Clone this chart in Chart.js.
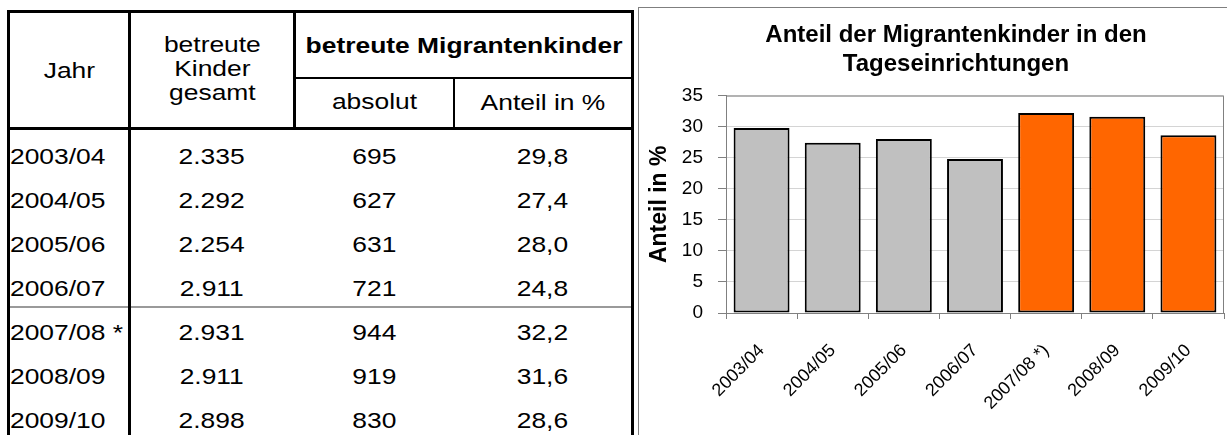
<!DOCTYPE html>
<html>
<head>
<meta charset="utf-8">
<script src="https://cdn.jsdelivr.net/npm/chart.js@4/dist/chart.umd.min.js"></script>
<style>
  html, body { margin: 0; padding: 0; background: #fff; }
  body { width: 1227px; height: 435px; overflow: hidden; position: relative;
         font-family: "Liberation Sans", Arial, sans-serif; color: #000; }
  .linie { position: absolute; background: #000; }
  .zelle { position: absolute; white-space: nowrap; font-size: 22px; line-height: 26px; height: 26px; }
  .zelle span { display: inline-block; transform: scaleX(1.2); }
  .mitte { text-align: center; width: 400px; }
  .mitte span { transform-origin: center; }
  .links span { transform-origin: left center; }
  #rahmen { position: absolute; left: 638px; top: 7px; width: 700px; height: 500px;
            border-left: 1px solid #7f7f7f; border-top: 1px solid #7f7f7f; }
  #diagramm { position: absolute; left: 639px; top: 8px; width: 634px; height: 427px; }
</style>
</head>
<body>
<div id="tabelle"></div>
<div id="rahmen"></div>
<div id="diagramm"><canvas id="graficoAnteil"></canvas></div>

<script>
// Daten
const jahre = ["2003/04", "2004/05", "2005/06", "2006/07", "2007/08 *)", "2008/09", "2009/10"];
const kinderGesamt = [2335, 2292, 2254, 2911, 2931, 2911, 2898];
const migrantenAbsolut = [695, 627, 631, 721, 944, 919, 830];
const anteilProzent = [29.8, 27.4, 28.0, 24.8, 32.2, 31.6, 28.6];
const yTicks = [0, 5, 10, 15, 20, 25, 30, 35];

// Zahlen im deutschen Format
function tausender(n) {
    return String(n).replace(/\B(?=(\d{3})+(?!\d))/g, ".");
}
function komma(n) {
    return n.toFixed(1).replace(".", ",");
}

// Tabelle zeichnen
const tabelle = document.getElementById("tabelle");

function linie(x, y, w, h, farbe) {
    const d = document.createElement("div");
    d.className = "linie";
    d.style.left = x + "px";
    d.style.top = y + "px";
    d.style.width = w + "px";
    d.style.height = h + "px";
    if (farbe) d.style.background = farbe;
    tabelle.appendChild(d);
}

function text(inhalt, x, yMitte, art, fett, zeilen) {
    const d = document.createElement("div");
    d.className = "zelle " + art;
    const n = zeilen || 1;
    d.style.top = (yMitte - n * 12) + "px";
    if (n > 1) { d.style.lineHeight = "24px"; d.style.height = (n * 24) + "px"; }
    if (art === "mitte") d.style.left = (x - 200) + "px";
    else d.style.left = x + "px";
    const s = document.createElement("span");
    s.innerHTML = inhalt;
    if (fett) { s.style.fontWeight = "bold"; s.style.fontSize = "22px"; s.style.transform = "scaleX(1.2)"; }
    d.appendChild(s);
    tabelle.appendChild(d);
    return d;
}

// Kopf
text("Jahr", 69, 70, "mitte");
text("betreute<br>Kinder<br>gesamt", 212, 69, "mitte", false, 3);
text("betreute Migrantenkinder", 464, 45, "mitte", true);
text("absolut", 374.5, 101, "mitte");
text("Anteil in %", 542.5, 102, "mitte");

// Zeilen
const jahrSpalte = document.createElement("div");
jahrSpalte.style.cssText = "position:absolute;left:0;top:0;width:123px;height:435px;overflow:hidden;";
tabelle.appendChild(jahrSpalte);

jahre.forEach((jahr, i) => {
    const y = 155.5 + i * 44;
    const t = text(jahr, 10, y, "links");
    jahrSpalte.appendChild(t);
    text(tausender(kinderGesamt[i]), 212, y, "mitte");
    text(String(migrantenAbsolut[i]), 374.5, y, "mitte");
    text(komma(anteilProzent[i]), 542.5, y, "mitte");
});

// Linien
linie(10, 306, 621, 2, "#9a9a9a");
linie(7, 10, 627, 3);
linie(7, 127, 627, 3);
linie(7, 10, 3, 430);
linie(128, 10, 3, 430);
linie(631, 10, 3, 430);
linie(293, 10, 3, 120);
linie(296, 77, 335, 2);
linie(453, 79, 2, 48);

// Diagramm
Chart.defaults.font.family = '"Liberation Sans", Arial, sans-serif';
Chart.defaults.color = "#000";

const plotRahmen = {
    id: "plotRahmen",
    beforeDatasetsDraw(chart) {
        const { ctx, chartArea: a } = chart;
        ctx.save();
        ctx.strokeStyle = "#808080";
        ctx.lineWidth = 1;
        ctx.beginPath();
        ctx.moveTo(a.left, a.top + 0.5);
        ctx.lineTo(a.right - 0.5, a.top + 0.5);
        ctx.lineTo(a.right - 0.5, a.bottom);
        ctx.stroke();
        ctx.restore();
    }
};

const ctx = document.getElementById("graficoAnteil");

new Chart(ctx, {
    type: "bar",
    data: {
        labels: jahre,
        datasets: [{
            data: anteilProzent,
            backgroundColor: c => c.dataIndex < 4 ? "#C0C0C0" : "#FF6600",
            borderColor: "#000",
            borderWidth: 2,
            borderSkipped: false,
            barPercentage: 0.786,
            categoryPercentage: 1.0
        }]
    },
    options: {
        responsive: true,
        maintainAspectRatio: false,
        animation: false,
        layout: { padding: 0 },
        plugins: {
            legend: { display: false },
            tooltip: { enabled: false },
            title: {
                display: true,
                text: ["Anteil der Migrantenkinder in den", "Tageseinrichtungen"],
                font: { size: 24, weight: "bold", lineHeight: 1.2 },
                color: "#000",
                padding: { top: 13, bottom: 17 }
            }
        },
        scales: {
            x: {
                grid: { drawOnChartArea: false, drawTicks: true, tickLength: 6, tickColor: "#808080", offset: true },
                border: { color: "#808080" },
                ticks: { font: { size: 18 }, minRotation: 45, maxRotation: 45, padding: 21, autoSkip: false },
                afterFit(s) { s.height = 122; }
            },
            y: {
                min: 0,
                max: 35,
                afterBuildTicks(s) { s.ticks = yTicks.map(v => ({ value: v })); },
                grid: { color: "#d4d4d4", tickColor: "#808080", tickLength: 8 },
                border: { color: "#808080" },
                ticks: { font: { size: 19 }, padding: 15 },
                title: {
                    display: true,
                    text: "Anteil in %",
                    font: { size: 23, weight: "bold" },
                    padding: { top: 7, bottom: 0 }
                },
                afterFit(s) { s.width = 87; }
            },
            y2: {
                position: "right",
                display: true,
                grid: { display: false },
                border: { display: false },
                ticks: { display: false },
                afterFit(s) { s.width = 49; }
            }
        }
    },
    plugins: [plotRahmen]
});
</script>
</body>
</html>
